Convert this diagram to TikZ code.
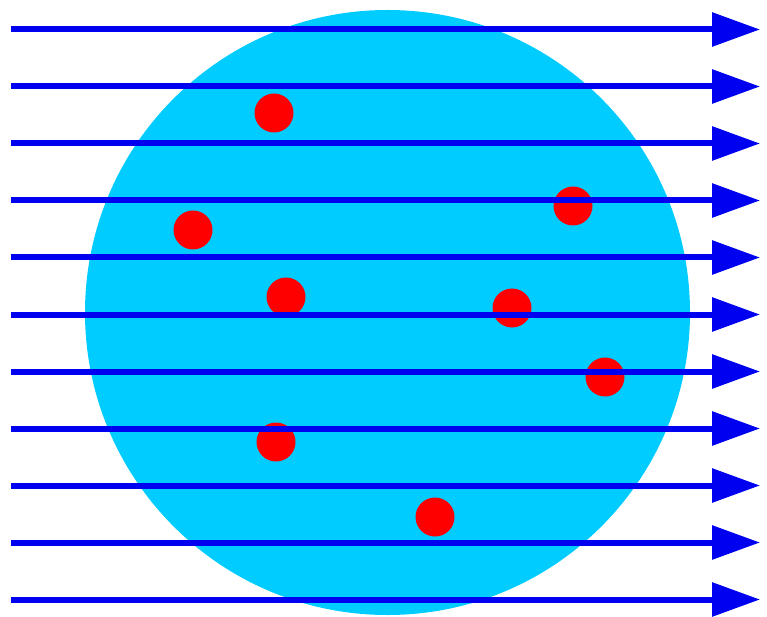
\documentclass[tikz,border=0pt]{standalone}
\usetikzlibrary{arrows.meta}
\definecolor{sphere}{RGB}{0,204,255}
\definecolor{ray}{RGB}{0,0,240}
\definecolor{dot}{RGB}{255,0,0}
\begin{document}
\begin{tikzpicture}[x=1pt,y=-1pt,
  rayline/.style={draw=ray,line width=6pt,-{Triangle[length=48pt,width=33pt]}},
  particle/.style={circle,fill=dot,minimum size=39pt,inner sep=0pt}]
\useasboundingbox (0,0) rectangle (767,617);
\fill[sphere] (387.5,312.5) circle (302.5);
\node[particle] (p1) at (274,113) {};
\node[particle] (p2) at (193,230) {};
\node[particle] (p3) at (286,297) {};
\node[particle] (p4) at (573,206) {};
\node[particle] (p5) at (512,308) {};
\node[particle] (p6) at (605,377) {};
\node[particle] (p7) at (276,442) {};
\node[particle] (p8) at (435,517) {};
\foreach \i in {0,...,10}{
  \coordinate (s\i) at (11,{29.5+57*\i});
  \coordinate (e\i) at (760,{29.5+57*\i});
  \draw[rayline] (s\i) -- (e\i);
}
\end{tikzpicture}
\end{document}
